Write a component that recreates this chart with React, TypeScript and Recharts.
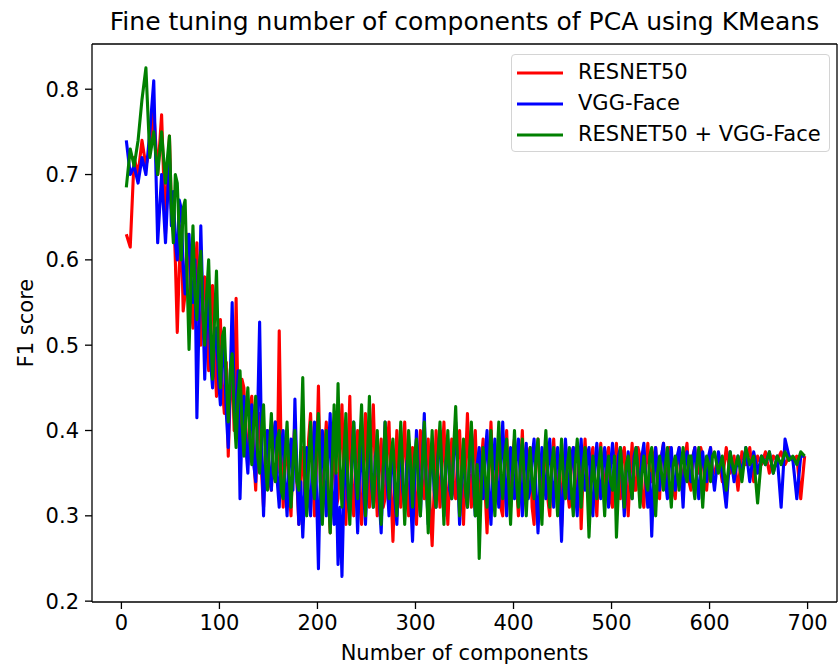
import React from 'react';
import { LineChart, Line, XAxis, YAxis, Legend, Customized, ReferenceLine } from 'recharts';

const components = [
  5, 9, 13, 17, 21, 25, 29, 33, 37, 41,
  45, 47, 49, 51, 53, 55, 57, 59, 61, 63, 65, 67, 69, 71, 73, 75, 77, 79, 81, 83,
  85, 87, 89, 91, 93, 95, 97, 99, 101, 103, 105, 107, 109, 111, 113, 115, 117, 119, 121, 123,
  125, 127, 129, 131, 133, 135, 137, 139, 141, 143, 145, 147, 149, 151, 153, 155, 157, 159, 161, 163,
  165, 167, 169, 171, 173, 175, 177, 179, 181, 183, 185, 187, 189, 191, 193, 195, 197, 199, 201, 203,
  205, 207, 209, 211, 213, 215, 217, 219, 221, 223, 225, 227, 229, 231, 233, 235, 237, 239, 241, 243,
  245, 247, 249, 251, 253, 255, 257, 259, 261, 263, 265, 267, 269, 271, 273, 275, 277, 279, 281, 283,
  285, 287, 289, 291, 293, 295, 297, 299, 301, 303, 305, 307, 309, 311, 313, 315, 317, 319, 321, 323,
  325, 327, 329, 331, 333, 335, 337, 339, 341, 343, 345, 347, 349, 351, 353, 355, 357, 359, 361, 363,
  365, 367, 369, 371, 373, 375, 377, 379, 381, 383, 385, 387, 389, 391, 393, 395, 397, 399, 401, 403,
  405, 407, 409, 411, 413, 415, 417, 419, 421, 423, 425, 427, 429, 431, 433, 435, 437, 439, 441, 443,
  445, 447, 449, 451, 453, 455, 457, 459, 461, 463, 465, 467, 469, 471, 473, 475, 477, 479, 481, 483,
  485, 487, 489, 491, 493, 495, 497, 499, 501, 503, 505, 507, 509, 511, 513, 515, 517, 519, 521, 523,
  525, 527, 529, 531, 533, 535, 537, 539, 541, 543, 545, 547, 549, 551, 553, 555, 557, 559, 561, 563,
  565, 567, 569, 571, 573, 575, 577, 579, 581, 583, 585, 587, 589, 591, 593, 595, 597, 599, 601, 603,
  605, 609, 613, 617, 621, 625, 629, 633, 637, 641,
  645, 649, 653, 657, 661, 665, 669, 673, 677, 681,
  685, 689, 693, 697,
];

const resnet50 = [
  0.63, 0.615, 0.72, 0.70, 0.74, 0.71, 0.73, 0.775, 0.70, 0.77,
  0.63, 0.70, 0.745, 0.66, 0.67, 0.60, 0.515, 0.59, 0.64, 0.54, 0.56, 0.63, 0.61, 0.55, 0.52, 0.58, 0.62, 0.53, 0.50, 0.57,
  0.58, 0.52, 0.47, 0.55, 0.57, 0.49, 0.44, 0.51, 0.53, 0.45, 0.42, 0.48, 0.37, 0.44, 0.48, 0.40, 0.555, 0.43, 0.39, 0.46,
  0.45, 0.39, 0.36, 0.43, 0.44, 0.37, 0.33, 0.40, 0.42, 0.35, 0.31, 0.38, 0.40, 0.34, 0.33, 0.39, 0.41, 0.35, 0.517, 0.37,
  0.31, 0.36, 0.40, 0.33, 0.30, 0.37, 0.41, 0.34, 0.29, 0.35, 0.38, 0.32, 0.31, 0.39, 0.42, 0.35, 0.30, 0.36, 0.452, 0.34,
  0.31, 0.37, 0.41, 0.33, 0.28, 0.35, 0.39, 0.31, 0.32, 0.38, 0.43, 0.34, 0.29, 0.36, 0.44, 0.33, 0.30, 0.37, 0.40, 0.32,
  0.29, 0.36, 0.42, 0.34, 0.31, 0.38, 0.43, 0.35, 0.30, 0.36, 0.39, 0.31, 0.32, 0.38, 0.41, 0.33, 0.27, 0.34, 0.40, 0.35,
  0.31, 0.37, 0.41, 0.34, 0.30, 0.36, 0.38, 0.33, 0.29, 0.35, 0.40, 0.33, 0.32, 0.37, 0.39, 0.31, 0.265, 0.33, 0.40, 0.35,
  0.31, 0.36, 0.41, 0.34, 0.29, 0.35, 0.39, 0.33, 0.32, 0.37, 0.40, 0.34, 0.29, 0.36, 0.42, 0.35, 0.31, 0.37, 0.40, 0.33,
  0.30, 0.36, 0.39, 0.33, 0.28, 0.35, 0.41, 0.34, 0.32, 0.37, 0.38, 0.31, 0.30, 0.36, 0.40, 0.33, 0.31, 0.37, 0.39, 0.34,
  0.30, 0.35, 0.40, 0.33, 0.32, 0.37, 0.38, 0.31, 0.29, 0.36, 0.39, 0.34, 0.33, 0.37, 0.38, 0.32, 0.30, 0.36, 0.39, 0.34,
  0.32, 0.37, 0.287, 0.34, 0.385, 0.33, 0.31, 0.37, 0.38, 0.32, 0.33, 0.38, 0.285, 0.35, 0.39, 0.34, 0.32, 0.37, 0.38, 0.33,
  0.30, 0.36, 0.385, 0.34, 0.33, 0.37, 0.38, 0.32, 0.31, 0.36, 0.385, 0.33, 0.32, 0.37, 0.38, 0.34, 0.30, 0.35, 0.385, 0.33,
  0.33, 0.38, 0.37, 0.32, 0.31, 0.36, 0.385, 0.35, 0.34, 0.37, 0.38, 0.33, 0.32, 0.37, 0.385, 0.35, 0.34, 0.38, 0.37, 0.33,
  0.32, 0.36, 0.38, 0.35, 0.34, 0.37, 0.385, 0.34, 0.33, 0.37, 0.38, 0.35, 0.35, 0.38, 0.37, 0.34, 0.33, 0.36, 0.38, 0.35,
  0.35, 0.37, 0.34, 0.38, 0.35, 0.37, 0.33, 0.375, 0.36, 0.38,
  0.34, 0.37, 0.36, 0.375, 0.35, 0.37, 0.365, 0.375, 0.36, 0.37,
  0.365, 0.37, 0.32, 0.37,
];

const vggFace = [
  0.74, 0.70, 0.71, 0.69, 0.72, 0.70, 0.75, 0.81, 0.62, 0.70,
  0.62, 0.67, 0.72, 0.64, 0.68, 0.62, 0.60, 0.67, 0.66, 0.59, 0.56, 0.62, 0.63, 0.57, 0.55, 0.60, 0.415, 0.52, 0.64, 0.55,
  0.46, 0.53, 0.56, 0.48, 0.45, 0.51, 0.52, 0.46, 0.43, 0.50, 0.49, 0.42, 0.38, 0.46, 0.55, 0.44, 0.40, 0.47, 0.32, 0.40,
  0.44, 0.38, 0.35, 0.41, 0.43, 0.36, 0.34, 0.42, 0.527, 0.38, 0.30, 0.37, 0.40, 0.35, 0.33, 0.39, 0.41, 0.34, 0.31, 0.38,
  0.40, 0.34, 0.30, 0.36, 0.39, 0.33, 0.437, 0.35, 0.29, 0.34, 0.275, 0.33, 0.38, 0.32, 0.30, 0.37, 0.41, 0.33, 0.238, 0.35,
  0.40, 0.34, 0.30, 0.37, 0.42, 0.33, 0.29, 0.35, 0.243, 0.31, 0.229, 0.33, 0.38, 0.32, 0.30, 0.36, 0.41, 0.34, 0.28, 0.35,
  0.39, 0.33, 0.29, 0.35, 0.40, 0.34, 0.31, 0.37, 0.38, 0.32, 0.28, 0.35, 0.41, 0.34, 0.30, 0.36, 0.37, 0.32, 0.29, 0.35,
  0.39, 0.33, 0.31, 0.36, 0.38, 0.32, 0.27, 0.34, 0.40, 0.35, 0.30, 0.36, 0.42, 0.34, 0.29, 0.35, 0.38, 0.33, 0.31, 0.37,
  0.40, 0.34, 0.30, 0.36, 0.39, 0.33, 0.32, 0.37, 0.41, 0.35, 0.29, 0.34, 0.38, 0.33, 0.31, 0.36, 0.40, 0.34, 0.30, 0.36,
  0.38, 0.34, 0.32, 0.37, 0.40, 0.33, 0.29, 0.35, 0.39, 0.34, 0.31, 0.36, 0.41, 0.35, 0.30, 0.36, 0.38, 0.33, 0.32, 0.37,
  0.39, 0.34, 0.30, 0.36, 0.385, 0.32, 0.33, 0.37, 0.39, 0.33, 0.28, 0.34, 0.38, 0.35, 0.32, 0.36, 0.39, 0.34, 0.31, 0.36,
  0.38, 0.33, 0.27, 0.34, 0.39, 0.35, 0.32, 0.37, 0.38, 0.33, 0.30, 0.36, 0.39, 0.34, 0.33, 0.37, 0.38, 0.32, 0.30, 0.36,
  0.385, 0.34, 0.32, 0.36, 0.38, 0.34, 0.31, 0.36, 0.385, 0.35, 0.33, 0.37, 0.38, 0.34, 0.30, 0.35, 0.375, 0.34, 0.32, 0.37,
  0.38, 0.35, 0.33, 0.37, 0.385, 0.34, 0.31, 0.35, 0.276, 0.34, 0.38, 0.35, 0.33, 0.37, 0.385, 0.34, 0.32, 0.36, 0.38, 0.34,
  0.33, 0.37, 0.38, 0.35, 0.31, 0.36, 0.375, 0.35, 0.34, 0.37, 0.38, 0.34, 0.32, 0.36, 0.375, 0.35, 0.34, 0.37, 0.38, 0.35,
  0.33, 0.375, 0.35, 0.31, 0.375, 0.34, 0.37, 0.35, 0.38, 0.34,
  0.375, 0.35, 0.37, 0.36, 0.375, 0.35, 0.37, 0.31, 0.39, 0.37,
  0.365, 0.32, 0.37, 0.37,
];

const resnetVgg = [
  0.685, 0.73, 0.71, 0.74, 0.788, 0.825, 0.72, 0.75, 0.70, 0.75,
  0.69, 0.72, 0.745, 0.66, 0.62, 0.70, 0.69, 0.63, 0.60, 0.66, 0.67, 0.58, 0.495, 0.57, 0.64, 0.56, 0.53, 0.59, 0.61, 0.54,
  0.50, 0.56, 0.60, 0.52, 0.46, 0.53, 0.587, 0.49, 0.45, 0.51, 0.52, 0.46, 0.41, 0.47, 0.49, 0.42, 0.38, 0.44, 0.47, 0.41,
  0.37, 0.42, 0.45, 0.39, 0.36, 0.41, 0.44, 0.37, 0.35, 0.40, 0.43, 0.36, 0.33, 0.38, 0.42, 0.35, 0.34, 0.39, 0.40, 0.33,
  0.32, 0.37, 0.41, 0.35, 0.31, 0.36, 0.40, 0.34, 0.33, 0.38, 0.462, 0.35, 0.30, 0.36, 0.41, 0.34, 0.32, 0.38, 0.42, 0.34,
  0.29, 0.35, 0.40, 0.33, 0.28, 0.36, 0.43, 0.35, 0.455, 0.36, 0.31, 0.37, 0.42, 0.34, 0.29, 0.36, 0.41, 0.35, 0.32, 0.38,
  0.43, 0.36, 0.30, 0.37, 0.44, 0.35, 0.31, 0.36, 0.40, 0.33, 0.29, 0.35, 0.41, 0.36, 0.32, 0.37, 0.39, 0.34, 0.30, 0.36,
  0.41, 0.35, 0.29, 0.34, 0.40, 0.36, 0.31, 0.37, 0.39, 0.33, 0.30, 0.36, 0.41, 0.34, 0.28, 0.35, 0.40, 0.34, 0.31, 0.37,
  0.41, 0.35, 0.29, 0.36, 0.40, 0.34, 0.32, 0.38, 0.428, 0.36, 0.30, 0.35, 0.39, 0.33, 0.31, 0.37, 0.41, 0.35, 0.30, 0.36,
  0.25, 0.33, 0.38, 0.35, 0.31, 0.36, 0.40, 0.34, 0.30, 0.36, 0.41, 0.35, 0.32, 0.37, 0.39, 0.34, 0.29, 0.35, 0.40, 0.34,
  0.31, 0.36, 0.39, 0.34, 0.30, 0.35, 0.38, 0.34, 0.32, 0.37, 0.39, 0.33, 0.29, 0.36, 0.40, 0.35, 0.31, 0.36, 0.38, 0.34,
  0.30, 0.35, 0.39, 0.34, 0.32, 0.36, 0.38, 0.33, 0.30, 0.36, 0.39, 0.35, 0.31, 0.36, 0.38, 0.34, 0.275, 0.33, 0.37, 0.34,
  0.32, 0.36, 0.38, 0.34, 0.30, 0.35, 0.37, 0.34, 0.33, 0.37, 0.275, 0.33, 0.38, 0.35, 0.31, 0.36, 0.37, 0.34, 0.32, 0.36,
  0.38, 0.35, 0.31, 0.35, 0.37, 0.34, 0.33, 0.37, 0.38, 0.34, 0.30, 0.35, 0.37, 0.35, 0.33, 0.36, 0.38, 0.34, 0.31, 0.36,
  0.37, 0.35, 0.33, 0.36, 0.38, 0.35, 0.34, 0.37, 0.37, 0.34, 0.32, 0.36, 0.38, 0.35, 0.31, 0.35, 0.37, 0.36, 0.34, 0.37,
  0.375, 0.35, 0.37, 0.33, 0.375, 0.35, 0.37, 0.34, 0.38, 0.36,
  0.37, 0.315, 0.37, 0.36, 0.375, 0.35, 0.37, 0.36, 0.375, 0.365,
  0.37, 0.36, 0.375, 0.37,
];

const xTicks = [0, 100, 200, 300, 400, 500, 600, 700];
const yTicks = [0.2, 0.3, 0.4, 0.5, 0.6, 0.7, 0.8];

const seriesList = [
  { key: 'resnet', name: 'RESNET50', color: '#ff0000', values: resnet50 },
  { key: 'vgg', name: 'VGG-Face', color: '#0000ff', values: vggFace },
  { key: 'both', name: 'RESNET50 + VGG-Face', color: '#008000', values: resnetVgg },
];

const data = components.map((c, i) => {
  const row: Record<string, number> = { n: c };
  seriesList.forEach((s) => {
    row[s.key] = s.values[i];
  });
  return row;
});

const FONT = '"DejaVu Sans", sans-serif';
const X_DOMAIN: [number, number] = [-30, 730];
const Y_DOMAIN: [number, number] = [0.199, 0.853];

const LegendBox = () => (
  <div
    style={{
      width: 319,
      height: 98,
      boxSizing: 'border-box',
      border: '1.3px solid #d4d4d4',
      borderRadius: 4,
      background: 'rgba(255,255,255,0.8)',
      fontFamily: FONT,
      fontSize: 21,
      color: '#000',
      paddingTop: 2,
    }}
  >
    {seriesList.map((s) => (
      <div key={s.key} style={{ height: 31, display: 'flex', alignItems: 'center' }}>
        <svg width={66} height={10} style={{ display: 'block', flex: 'none' }}>
          <line x1={5} y1={5} x2={51} y2={5} stroke={s.color} strokeWidth={3.1} />
        </svg>
        <span style={{ lineHeight: '31px', whiteSpace: 'nowrap' }}>{s.name}</span>
      </div>
    ))}
  </div>
);

const Title = () => (
  <text x={464.5} y={30} textAnchor="middle" fontFamily={FONT} fontSize={25} fill="#000">
    Fine tuning number of components of PCA using KMeans
  </text>
);

export default function App() {
  return (
    <div style={{ position: 'absolute', left: 0, top: 0, width: 840, height: 667, background: '#fff' }}>
      <LineChart
        width={840}
        height={667}
        data={data}
        margin={{ top: 44, right: 3, bottom: 0, left: 0 }}
        style={{ fontFamily: FONT }}
      >
        <XAxis
          dataKey="n"
          type="number"
          domain={X_DOMAIN}
          ticks={xTicks}
          allowDataOverflow
          height={65}
          tickSize={7}
          tickMargin={6}
          stroke="#000"
          axisLine={{ stroke: '#000', strokeWidth: 1.3 }}
          tickLine={{ stroke: '#000', strokeWidth: 1.3 }}
          tick={{ fill: '#000', fontSize: 21, fontFamily: FONT }}
          label={{
            content: (p: any) => {
              const vb = p.viewBox || { x: 92, y: 602, width: 745, height: 65 };
              return (
                <text x={vb.x + vb.width / 2} y={vb.y + 58} textAnchor="middle" fontFamily={FONT} fontSize={21} fill="#000">
                  Number of components
                </text>
              );
            },
          }}
        />
        <YAxis
          type="number"
          domain={Y_DOMAIN}
          ticks={yTicks}
          allowDataOverflow
          width={92}
          tickSize={7}
          tickMargin={6}
          axisLine={{ stroke: '#000', strokeWidth: 1.3 }}
          tickLine={{ stroke: '#000', strokeWidth: 1.3 }}
          tick={{ fill: '#000', fontSize: 21, fontFamily: FONT }}
          tickFormatter={(v: number) => v.toFixed(1)}
          label={{
            content: (p: any) => {
              const vb = p.viewBox || { x: 0, y: 44, width: 92, height: 558 };
              const cy = vb.y + vb.height / 2;
              return (
                <text
                  x={33}
                  y={cy}
                  transform={`rotate(-90, 33, ${cy})`}
                  textAnchor="middle"
                  fontFamily={FONT}
                  fontSize={21}
                  fill="#000"
                >
                  F1 score
                </text>
              );
            },
          }}
        />
        {seriesList.map((s) => (
          <Line
            key={s.key}
            type="linear"
            dataKey={s.key}
            name={s.name}
            stroke={s.color}
            strokeWidth={3.1}
            dot={false}
            activeDot={false}
            strokeLinejoin="round"
            isAnimationActive={false}
          />
        ))}
        <ReferenceLine y={Y_DOMAIN[1]} stroke="#000" strokeWidth={1.3} ifOverflow="visible" />
        <ReferenceLine x={X_DOMAIN[1]} stroke="#000" strokeWidth={1.3} ifOverflow="visible" />
        <Legend
          layout="horizontal"
          verticalAlign="middle"
          align="center"
          wrapperStyle={{ position: 'absolute', top: 54, left: 511, width: 319, height: 98 }}
          content={() => <LegendBox />}
        />
        <Customized component={Title} />
      </LineChart>
    </div>
  );
}
